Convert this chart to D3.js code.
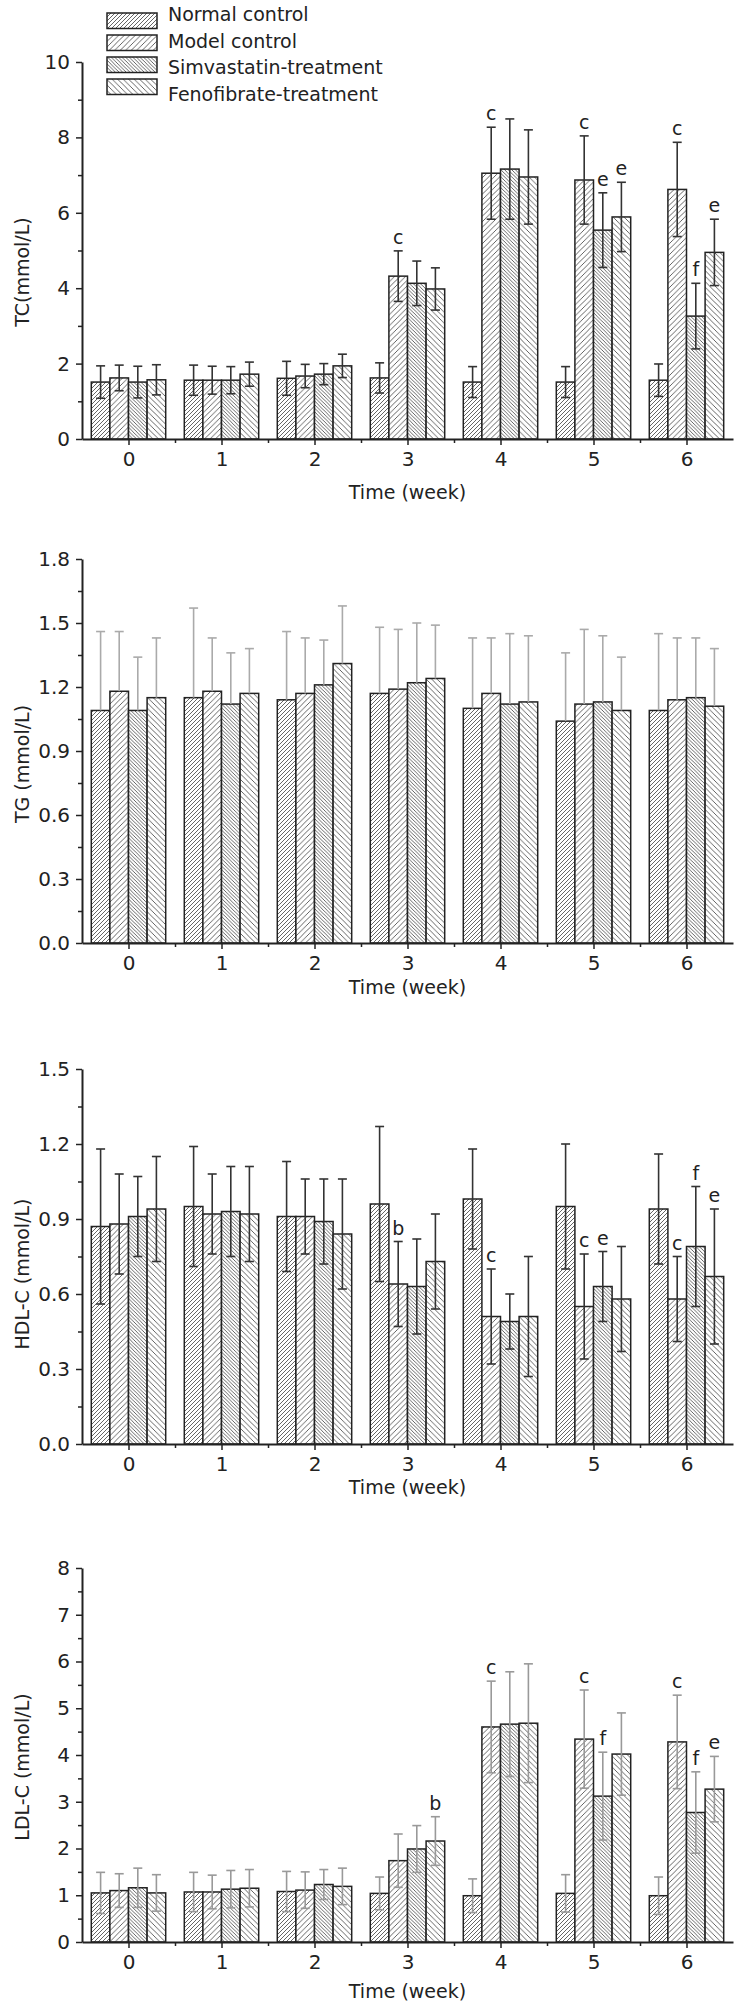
<!DOCTYPE html>
<html><head><meta charset="utf-8">
<script src="https://cdn.jsdelivr.net/npm/d3@7"></script>
<style>body{margin:0;background:#fff}svg{display:block}</style>
</head><body><svg id="c" width="740" height="2008"></svg>
<script>
// ---------------- data ----------------
const weeks = [0, 1, 2, 3, 4, 5, 6];
const seriesNames = ["Normal control", "Model control", "Simvastatin-treatment", "Fenofibrate-treatment"];

// rows = series (Normal, Model, Simvastatin, Fenofibrate); columns = week 0..6
const tcMean = [
  [1.51, 1.56, 1.61, 1.62, 1.51, 1.51, 1.56],
  [1.62, 1.56, 1.67, 4.32, 7.05, 6.87, 6.62],
  [1.51, 1.56, 1.72, 4.13, 7.16, 5.54, 3.26],
  [1.57, 1.72, 1.94, 3.98, 6.95, 5.89, 4.95]];
const tcErr = [
  [0.43, 0.40, 0.45, 0.40, 0.41, 0.41, 0.43],
  [0.34, 0.37, 0.31, 0.67, 1.22, 1.17, 1.25],
  [0.42, 0.36, 0.28, 0.59, 1.33, 0.99, 0.87],
  [0.40, 0.32, 0.31, 0.56, 1.25, 0.92, 0.88]];
const tcMarks = [[3, 1, "c"], [4, 1, "c"], [5, 1, "c"], [5, 2, "e"], [5, 3, "e"], [6, 1, "c"], [6, 2, "f"], [6, 3, "e"]];

const tgMean = [
  [1.09, 1.15, 1.14, 1.17, 1.10, 1.04, 1.09],
  [1.18, 1.18, 1.17, 1.19, 1.17, 1.12, 1.14],
  [1.09, 1.12, 1.21, 1.22, 1.12, 1.13, 1.15],
  [1.15, 1.17, 1.31, 1.24, 1.13, 1.09, 1.11]];
const tgErr = [
  [0.37, 0.42, 0.32, 0.31, 0.33, 0.32, 0.36],
  [0.28, 0.25, 0.26, 0.28, 0.26, 0.35, 0.29],
  [0.25, 0.24, 0.21, 0.28, 0.33, 0.31, 0.28],
  [0.28, 0.21, 0.27, 0.25, 0.31, 0.25, 0.27]];
const tgMarks = [];

const hdlMean = [
  [0.87, 0.95, 0.91, 0.96, 0.98, 0.95, 0.94],
  [0.88, 0.92, 0.91, 0.64, 0.51, 0.55, 0.58],
  [0.91, 0.93, 0.89, 0.63, 0.49, 0.63, 0.79],
  [0.94, 0.92, 0.84, 0.73, 0.51, 0.58, 0.67]];
const hdlErr = [
  [0.31, 0.24, 0.22, 0.31, 0.20, 0.25, 0.22],
  [0.20, 0.16, 0.15, 0.17, 0.19, 0.21, 0.17],
  [0.16, 0.18, 0.17, 0.19, 0.11, 0.14, 0.24],
  [0.21, 0.19, 0.22, 0.19, 0.24, 0.21, 0.27]];
const hdlMarks = [[3, 1, "b"], [4, 1, "c"], [5, 1, "c"], [5, 2, "e"], [6, 1, "c"], [6, 2, "f"], [6, 3, "e"]];

const ldlMean = [
  [1.05, 1.07, 1.08, 1.04, 0.99, 1.04, 0.99],
  [1.10, 1.07, 1.11, 1.74, 4.60, 4.34, 4.28],
  [1.16, 1.13, 1.23, 1.99, 4.66, 3.12, 2.77],
  [1.05, 1.15, 1.19, 2.16, 4.68, 4.02, 3.27]];
const ldlErr = [
  [0.44, 0.42, 0.43, 0.35, 0.36, 0.40, 0.40],
  [0.36, 0.36, 0.39, 0.57, 0.98, 1.05, 1.00],
  [0.42, 0.40, 0.32, 0.50, 1.12, 0.94, 0.87],
  [0.39, 0.40, 0.39, 0.52, 1.27, 0.88, 0.70]];
const ldlMarks = [[3, 3, "b"], [4, 1, "c"], [5, 1, "c"], [5, 2, "f"], [6, 1, "c"], [6, 2, "f"], [6, 3, "e"]];

const xTitle = "Time (week)";

// ---------------- layout / style ----------------
const FONT = "'DejaVu Sans', sans-serif";
const INK = "#222";
const left = 82, right = 733;

const panels = [
  {mean: tcMean, err: tcErr, marks: tcMarks, top: 62, bottom: 439, max: 10, major: 2, minor: 1, fmt: d3.format("d"),
   label: "TC(mmol/L)", labelCy: 272, titleY: 499, errColor: "#333", upOnly: false},
  {mean: tgMean, err: tgErr, marks: tgMarks, top: 559, bottom: 943, max: 1.8, major: 0.3, minor: 0.15, fmt: d3.format(".1f"),
   label: "TG (mmol/L)", labelCy: 764, titleY: 994, errColor: "#aaa", upOnly: true},
  {mean: hdlMean, err: hdlErr, marks: hdlMarks, top: 1069, bottom: 1444, max: 1.5, major: 0.3, minor: 0.15, fmt: d3.format(".1f"),
   label: "HDL-C (mmol/L)", labelCy: 1274, titleY: 1494, errColor: "#333", upOnly: false},
  {mean: ldlMean, err: ldlErr, marks: ldlMarks, top: 1568, bottom: 1942, max: 8, major: 1, minor: 0.5, fmt: d3.format("d"),
   label: "LDL-C (mmol/L)", labelCy: 1767, titleY: 1998, errColor: "#999", upOnly: false}
];

const svg = d3.select("#c");

// hatch patterns: [direction, spacing]
const hatches = [["/", 4], ["/", 5.5], ["\\", 3.6], ["\\", 5.5]];
const defs = svg.append("defs");
hatches.forEach(([dir, w], i) => {
  const p = defs.append("pattern").attr("id", "h" + i).attr("patternUnits", "userSpaceOnUse")
    .attr("width", w).attr("height", w);
  p.append("rect").attr("width", w).attr("height", w).attr("fill", "#fff");
  const d = dir === "/"
    ? `M0,${w} L${w},0 M${-w/2},${w/2} L${w/2},${-w/2} M${w/2},${w*1.5} L${w*1.5},${w/2}`
    : `M0,0 L${w},${w} M${-w/2},${w/2} L${w/2},${w*1.5} M${w/2},${-w/2} L${w*1.5},${w/2}`;
  p.append("path").attr("d", d).attr("stroke", "#555").attr("stroke-width", 0.9);
});

const x = d3.scaleLinear().domain([-0.5, 6.5]).range([left, right]);
const band = x(1) - x(0);
const groupW = band * 0.8;
const barW = groupW / seriesNames.length;
const barX = (w, s) => x(w) - groupW / 2 + s * barW;

function styleAxis(g) {
  g.select(".domain").attr("stroke", INK).attr("stroke-width", 2);
  g.selectAll(".tick line").attr("stroke", INK).attr("stroke-width", 1.5);
  g.selectAll(".tick text").attr("fill", INK).attr("font-family", FONT).attr("font-size", 20);
}

panels.forEach(P => {
  const y = d3.scaleLinear().domain([0, P.max]).range([P.bottom, P.top]);
  const g = svg.append("g");

  // bars
  P.mean.forEach((vals, s) => {
    g.append("g").selectAll("rect").data(vals).join("rect")
      .attr("x", (d, i) => barX(weeks[i], s))
      .attr("y", d => y(d))
      .attr("width", barW)
      .attr("height", d => y(0) - y(d))
      .attr("fill", `url(#h${s})`)
      .attr("stroke", INK).attr("stroke-width", 1.5);
  });

  // error bars
  P.mean.forEach((vals, s) => {
    vals.forEach((m, i) => {
      const e = P.err[s][i];
      const cx = barX(weeks[i], s) + barW / 2;
      const y1 = y(m + e), y2 = P.upOnly ? y(m) : y(m - e);
      const eg = g.append("g").attr("stroke", P.errColor).attr("stroke-width", 1.6);
      eg.append("line").attr("x1", cx).attr("x2", cx).attr("y1", y1).attr("y2", y2);
      eg.append("line").attr("x1", cx - 4.5).attr("x2", cx + 4.5).attr("y1", y1).attr("y2", y1);
      if (!P.upOnly) eg.append("line").attr("x1", cx - 4.5).attr("x2", cx + 4.5).attr("y1", y2).attr("y2", y2);
    });
  });

  // significance letters
  g.selectAll("text.mark").data(P.marks).join("text").attr("class", "mark")
    .attr("x", d => barX(d[0], d[1]) + barW / 2)
    .attr("y", d => y(P.mean[d[1]][d[0]] + P.err[d[1]][d[0]]) - 7)
    .attr("text-anchor", "middle").attr("font-family", FONT).attr("font-size", 19).attr("fill", INK)
    .text(d => d[2]);

  // y axis
  const majors = d3.range(0, P.max + 1e-9, P.major);
  const minors = d3.range(P.minor, P.max, P.major);
  const ya = g.append("g").attr("transform", `translate(${left},0)`)
    .call(d3.axisLeft(y).tickValues(majors).tickFormat(P.fmt).tickSize(6).tickPadding(6).tickSizeOuter(0));
  styleAxis(ya);
  const ym = g.append("g").attr("transform", `translate(${left},0)`)
    .call(d3.axisLeft(y).tickValues(minors).tickFormat("").tickSize(4).tickSizeOuter(0));
  styleAxis(ym);
  ym.select(".domain").remove();

  // x axis
  const xa = g.append("g").attr("transform", `translate(0,${P.bottom})`)
    .call(d3.axisBottom(x).tickValues(weeks).tickFormat(d3.format("d")).tickSize(6).tickPadding(7).tickSizeOuter(0));
  styleAxis(xa);
  const xm = g.append("g").attr("transform", `translate(0,${P.bottom})`)
    .call(d3.axisBottom(x).tickValues(d3.range(0.5, 6, 1)).tickFormat("").tickSize(4).tickSizeOuter(0));
  styleAxis(xm);
  xm.select(".domain").remove();

  // titles
  g.append("text").attr("x", (left + right) / 2).attr("y", P.titleY)
    .attr("text-anchor", "middle").attr("font-family", FONT).attr("font-size", 19).attr("fill", INK)
    .text(xTitle);
  g.append("text").attr("transform", `translate(29,${P.labelCy}) rotate(-90)`)
    .attr("text-anchor", "middle").attr("font-family", FONT).attr("font-size", 19).attr("fill", INK)
    .text(P.label);
});

// legend
const lg = svg.append("g");
seriesNames.forEach((name, i) => {
  lg.append("rect").attr("x", 107).attr("y", 13 + 22 * i).attr("width", 50).attr("height", 15.5)
    .attr("fill", `url(#h${i})`).attr("stroke", INK).attr("stroke-width", 1.5);
  lg.append("text").attr("x", 168).attr("y", 21 + 26.7 * i)
    .attr("font-family", FONT).attr("font-size", 19).attr("fill", INK).text(name);
});
</script></body></html>
